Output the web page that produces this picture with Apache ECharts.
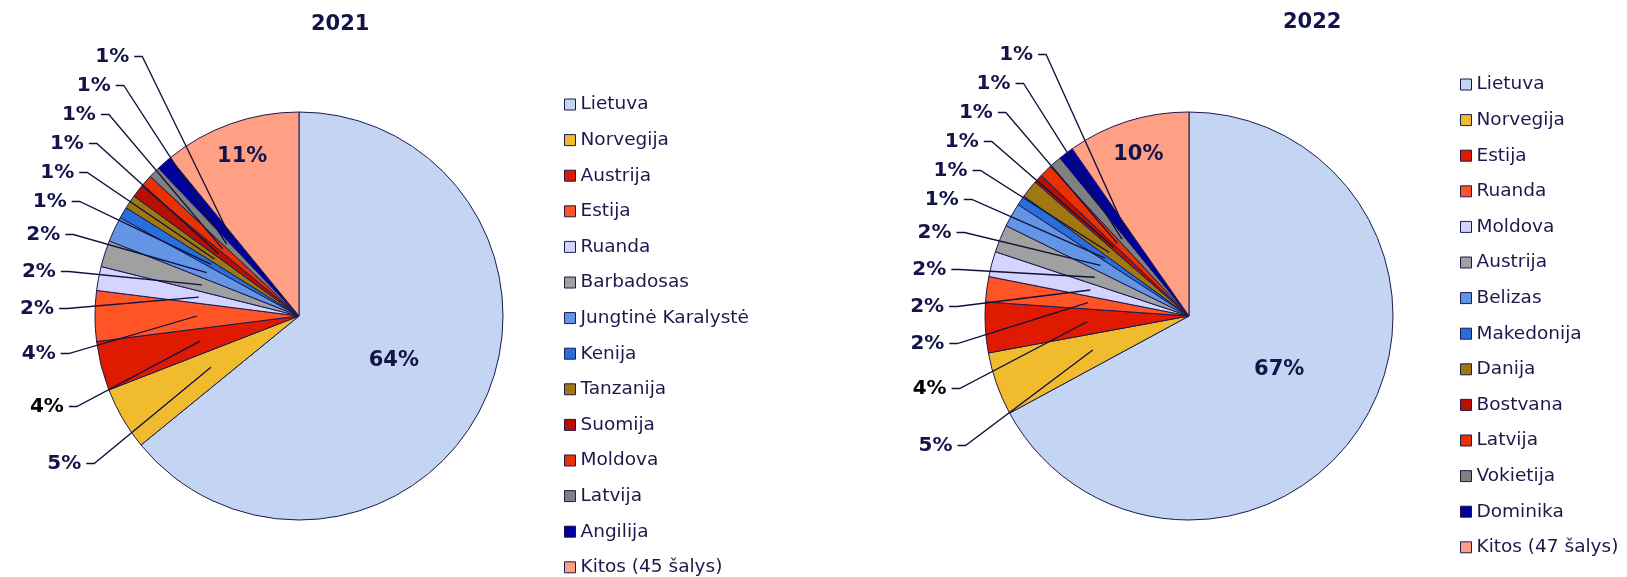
<!DOCTYPE html>
<html lang="lt">
<head>
    <meta charset="UTF-8">
    <title>2021 / 2022</title>
    <script src="https://cdn.jsdelivr.net/npm/echarts@6/dist/echarts.min.js"></script>
</head>
<body style="margin:0;background:#ffffff;">
<div id="main" style="width:1627px;height:577px;"></div>
<script>
    var names2021 = ['Lietuva', 'Norvegija', 'Austrija', 'Estija', 'Ruanda', 'Barbadosas', 'Jungtinė Karalystė',
        'Kenija', 'Tanzanija', 'Suomija', 'Moldova', 'Latvija', 'Angilija', 'Kitos (45 šalys)'];
    var values2021 = [64.1, 5.0, 3.9, 4.0, 1.9, 2.1, 2.0, 0.9, 1.1, 1.0, 1.0, 0.9, 1.2, 10.9];

    var names2022 = ['Lietuva', 'Norvegija', 'Estija', 'Ruanda', 'Moldova', 'Austrija', 'Belizas',
        'Makedonija', 'Danija', 'Bostvana', 'Latvija', 'Vokietija', 'Dominika', 'Kitos (47 šalys)'];
    var values2022 = [67.1, 5.0, 4.0, 2.0, 2.0, 2.2, 1.9, 0.8, 1.4, 0.7, 1.0, 1.0, 1.2, 9.7];

    var titles = ['2021', '2022'];

    var palette = ['#C3D5F2', '#F0BC2E', '#E01A00', '#FF5426', '#D4D4FF', '#A0A0A0', '#6495E5',
        '#2A6FD9', '#A07810', '#B81000', '#E83000', '#808080', '#00009A', '#FFA085'];

    var navy = '#14144B';
    var font = 'DejaVu Sans';
    var R = 204;

    function pct(p) {
        return Math.round(p.percent) + '%';
    }

    var labelBase = {
        fontFamily: font,
        fontWeight: 'bold',
        fontSize: 20,
        formatter: pct
    };

    // one pie = 3 series: the coloured pie, a ring just to place the "Kitos" label,
    // and a see-through small pie whose outside labels give the leader lines
    function makePie(names, values, cx, labelBottom) {
        var last = names.length - 1;
        var main = {
            type: 'pie',
            z: 2,
            center: [cx, 316],
            radius: [0, R],
            startAngle: 90,
            clockwise: true,
            silent: true,
            avoidLabelOverlap: false,
            itemStyle: {borderColor: '#1A1A50', borderWidth: 1},
            label: Object.assign({position: 'inside', color: navy}, labelBase, {fontSize: 21}),
            labelLine: {show: false},
            emphasis: {disabled: true},
            data: names.map(function (n, i) {
                return {name: n, value: values[i], itemStyle: {color: palette[i]}, label: {show: i === 0}};
            })
        };
        var ring = {
            type: 'pie',
            z: 3,
            center: [cx, 316],
            radius: [128, R],
            startAngle: 90,
            silent: true,
            avoidLabelOverlap: false,
            itemStyle: {color: 'rgba(0,0,0,0)', borderWidth: 0},
            label: Object.assign({position: 'inside', color: navy}, labelBase, {fontSize: 21}),
            labelLine: {show: false},
            emphasis: {disabled: true},
            data: names.map(function (n, i) {
                return {name: n, value: values[i], label: {show: i === last}};
            })
        };
        var lines = {
            type: 'pie',
            z: 5,
            top: 0,
            bottom: labelBottom,
            center: [cx, 316],
            radius: [0, R / 2],
            startAngle: 90,
            silent: true,
            avoidLabelOverlap: true,
            itemStyle: {color: 'rgba(0,0,0,0)', borderWidth: 0},
            label: Object.assign({position: 'outside', color: navy}, labelBase),
            labelLine: {
                show: true,
                length: 135,
                length2: 8,
                lineStyle: {color: '#10103F', width: 1.3}
            },
            emphasis: {disabled: true},
            data: names.map(function (n, i) {
                var on = i !== 0 && i !== last;
                return {
                    name: n, value: values[i],
                    label: {
                        show: on,
                        // bigger slices get more room, like the stacked labels of the original
                        lineHeight: 19 + 8 * Math.round(values[i]),
                        color: i === 2 ? '#000000' : navy
                    },
                    labelLine: {show: on}
                };
            })
        };
        return [main, ring, lines];
    }

    function makeLegend(names, left, top) {
        return {
            orient: 'vertical',
            left: left,
            top: top,
            padding: 0,
            icon: 'rect',
            itemWidth: 11,
            itemHeight: 11,
            itemGap: 16.6,
            selectedMode: false,
            itemStyle: {borderColor: '#1A1A50', borderWidth: 1},
            textStyle: {fontFamily: font, fontSize: 18.5, lineHeight: 19, color: '#1B1B4B'},
            data: names.map(function (n, i) {
                return {name: n, itemStyle: {color: palette[i]}};
            })
        };
    }

    var chart = echarts.init(document.getElementById('main'));

    var option = {
        backgroundColor: '#ffffff',
        animation: false,
        title: [
            {text: titles[0], left: 311, top: 14, padding: 0,
                textStyle: {fontFamily: font, fontSize: 21, fontWeight: 'bold', color: navy}},
            {text: titles[1], left: 1283, top: 12, padding: 0,
                textStyle: {fontFamily: font, fontSize: 21, fontWeight: 'bold', color: navy}}
        ],
        legend: [
            makeLegend(names2021, 564, 95),
            makeLegend(names2022, 1460, 75)
        ],
        series: makePie(names2021, values2021, 299, 83).concat(makePie(names2022, values2022, 1189, 101))
    };

    chart.setOption(option);
</script>
</body>
</html>
